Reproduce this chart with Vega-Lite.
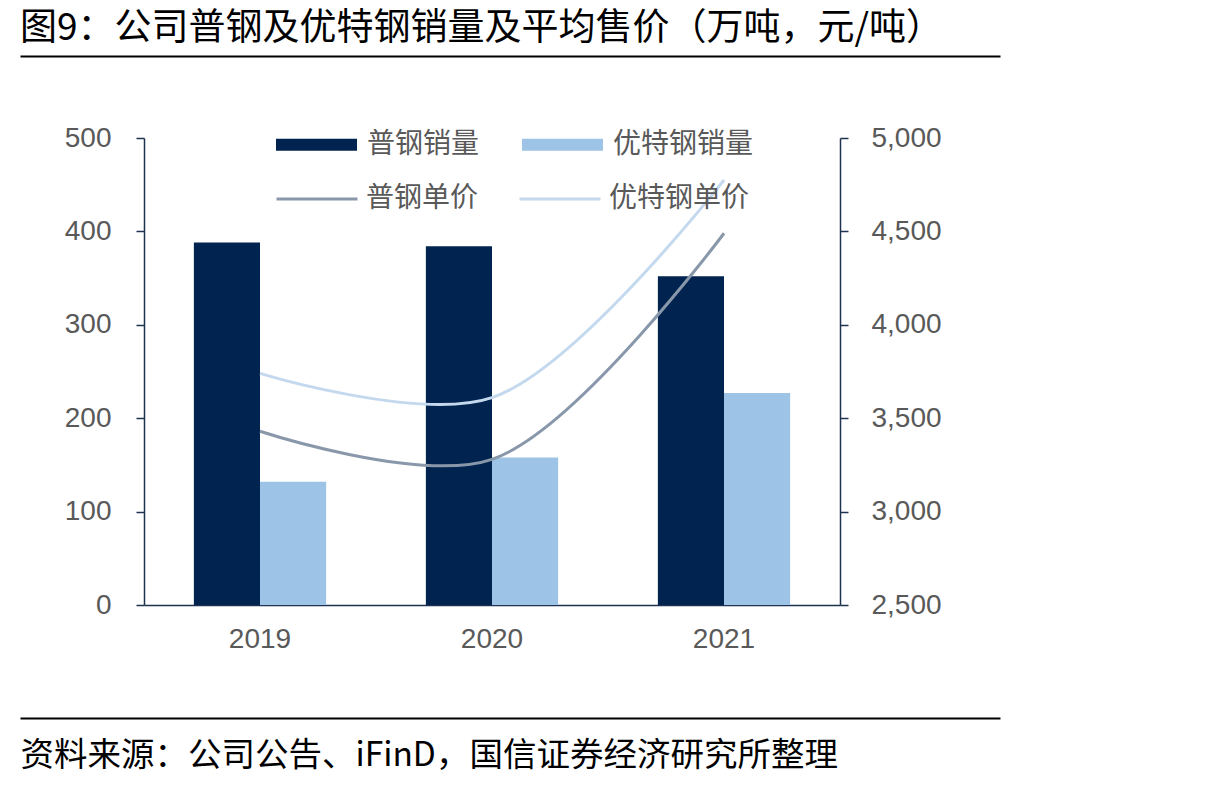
{
  "$schema": "https://vega.github.io/schema/vega-lite/v6.json",
  "width": 980,
  "height": 467,
  "autosize": {"type": "none"},
  "padding": {"left": 20, "top": 138, "right": 217, "bottom": 181},
  "background": "white",
  "title": {
    "text": "图9：公司普钢及优特钢销量及平均售价（万吨，元/吨）",
    "anchor": "start",
    "frame": "group",
    "offset": 8,
    "font": "Noto Sans CJK SC",
    "fontSize": 37,
    "fontWeight": "normal",
    "color": "#000000"
  },
  "config": {
    "view": {"stroke": null},
    "axis": {"grid": false},
    "legend": {
      "labelFont": "Noto Sans CJK SC",
      "labelFontSize": 28,
      "labelColor": "#595959",
      "labelOffset": 10,
      "columnPadding": 42,
      "padding": 0,
      "title": null
    }
  },
  "datasets": {
    "sales": [
      {"year": "2019", "type": "普钢销量", "volume": 388},
      {"year": "2019", "type": "优特钢销量", "volume": 132},
      {"year": "2020", "type": "普钢销量", "volume": 384},
      {"year": "2020", "type": "优特钢销量", "volume": 158},
      {"year": "2021", "type": "普钢销量", "volume": 352},
      {"year": "2021", "type": "优特钢销量", "volume": 227}
    ],
    "prices": [
      {"year": "2019", "type": "普钢单价", "price": 3430},
      {"year": "2020", "type": "普钢单价", "price": 3280},
      {"year": "2021", "type": "普钢单价", "price": 4490},
      {"year": "2019", "type": "优特钢单价", "price": 3740},
      {"year": "2020", "type": "优特钢单价", "price": 3610},
      {"year": "2021", "type": "优特钢单价", "price": 4775}
    ]
  },
  "resolve": {"scale": {"x": "independent", "y": "independent"}, "axis": {"x": "independent", "y": "independent"}},
  "layer": [
    {
      "data": {"name": "sales"},
      "mark": {"type": "bar"},
      "encoding": {
        "x": {
          "field": "year",
          "type": "nominal",
          "scale": {"range": [124, 820], "paddingInner": 0.43, "paddingOuter": 0.215},
          "axis": {
            "title": null,
            "labelAngle": 0,
            "ticks": false,
            "tickSize": 0,
            "labelPadding": 20,
            "labelFont": "Liberation Sans",
            "labelFontSize": 28,
            "labelColor": "#595959",
            "domainColor": "#1F3350",
            "domainWidth": 1.5
          }
        },
        "xOffset": {"field": "type", "type": "nominal", "sort": ["普钢销量", "优特钢销量"]},
        "y": {
          "field": "volume",
          "type": "quantitative",
          "scale": {"domain": [0, 500], "nice": false},
          "axis": {
            "title": null,
            "orient": "left",
            "offset": -124,
            "values": [0, 100, 200, 300, 400, 500],
            "labelFont": "Liberation Sans",
            "labelFontSize": 28,
            "labelColor": "#595959",
            "labelPadding": 25,
            "tickSize": 8,
            "tickColor": "#1F3350",
            "tickWidth": 1.5,
            "domainColor": "#1F3350",
            "domainWidth": 1.5
          }
        },
        "color": {
          "field": "type",
          "type": "nominal",
          "sort": ["普钢销量", "优特钢销量"],
          "scale": {"domain": ["普钢销量", "优特钢销量"], "range": ["#00234F", "#9DC3E6"]},
          "legend": {
            "orient": "none",
            "direction": "horizontal",
            "legendX": 256,
            "legendY": -34,
            "symbolType": "M-1,-0.15L1,-0.15L1,0.15L-1,0.15Z",
            "symbolSize": 6561,
            "symbolStrokeWidth": 0,
            "symbolOpacity": 1
          }
        }
      }
    },
    {
      "data": {"name": "prices"},
      "mark": {"type": "line", "interpolate": "catmull-rom", "strokeWidth": 3},
      "encoding": {
        "x": {
          "field": "year",
          "type": "nominal",
          "scale": {"range": [124, 820], "paddingInner": 0.43, "paddingOuter": 0.215},
          "axis": null
        },
        "y": {
          "field": "price",
          "type": "quantitative",
          "scale": {"domain": [2500, 5000], "nice": false},
          "axis": {
            "title": null,
            "orient": "right",
            "offset": -160,
            "values": [2500, 3000, 3500, 4000, 4500, 5000],
            "format": ",d",
            "labelFont": "Liberation Sans",
            "labelFontSize": 28,
            "labelColor": "#595959",
            "labelPadding": 23,
            "tickSize": 8,
            "tickColor": "#1F3350",
            "tickWidth": 1.5,
            "domainColor": "#1F3350",
            "domainWidth": 1.5
          }
        },
        "stroke": {
          "field": "type",
          "type": "nominal",
          "sort": ["普钢单价", "优特钢单价"],
          "scale": {"domain": ["普钢单价", "优特钢单价"], "range": ["#8898AA", "#C4D9EE"]},
          "legend": {
            "orient": "none",
            "direction": "horizontal",
            "legendX": 255,
            "legendY": 19,
            "columnPadding": 34,
            "labelOffset": 7,
            "symbolType": "stroke",
            "symbolSize": 6561,
            "symbolStrokeWidth": 3
          }
        }
      }
    },
    {
      "data": {"name": "sales"},
      "mark": {"type": "rule", "opacity": 0},
      "encoding": {
        "x": {
          "field": "year",
          "type": "nominal",
          "axis": {
            "orient": "top",
            "offset": 82,
            "title": null,
            "labels": false,
            "ticks": false,
            "domainColor": "#000000",
            "domainWidth": 2
          }
        }
      }
    },
    {
      "data": {"name": "prices"},
      "mark": {"type": "rule", "opacity": 0},
      "encoding": {
        "x": {
          "field": "year",
          "type": "nominal",
          "axis": {
            "orient": "bottom",
            "offset": 113,
            "title": "资料来源：公司公告、iFinD，国信证券经济研究所整理",
            "titleAnchor": "start",
            "titleAlign": "left",
            "titlePadding": 21,
            "titleFont": "Noto Sans CJK SC",
            "titleFontSize": 33.5,
            "titleFontWeight": "normal",
            "titleColor": "#000000",
            "labels": false,
            "ticks": false,
            "domainColor": "#000000",
            "domainWidth": 2
          }
        }
      }
    }
  ]
}
